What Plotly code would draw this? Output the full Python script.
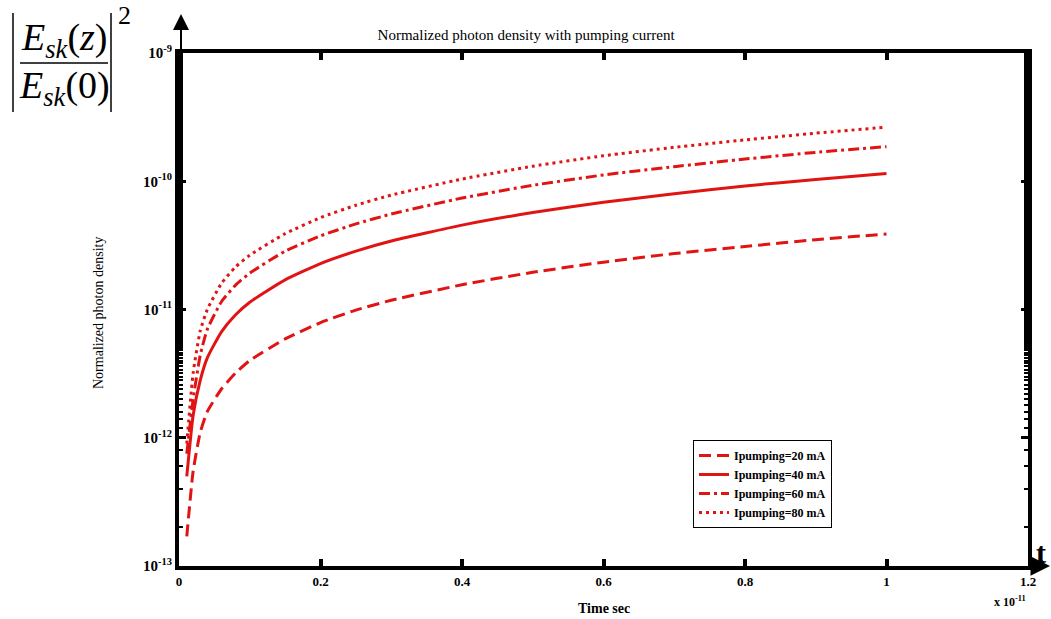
import plotly.graph_objects as go

# time in units of 1e-11 s
time = [0.011, 0.02, 0.03, 0.04, 0.06, 0.08, 0.1, 0.15, 0.2, 0.25, 0.3, 0.4, 0.5, 0.6, 0.7, 0.8, 0.9, 1.0]
i20 = [1.7e-13, 5.5e-13, 1.1e-12, 1.6e-12, 2.4e-12, 3.2e-12, 4.0e-12, 5.9e-12, 7.9e-12, 9.9e-12,
       1.18e-11, 1.56e-11, 1.95e-11, 2.34e-11, 2.73e-11, 3.1e-11, 3.5e-11, 3.88e-11]
i40 = [5.0e-13, 1.5e-12, 2.8e-12, 4.2e-12, 6.7e-12, 9.1e-12, 1.14e-11, 1.7e-11, 2.28e-11, 2.85e-11,
       3.42e-11, 4.55e-11, 5.7e-11, 6.85e-11, 8.0e-11, 9.2e-11, 1.03e-10, 1.15e-10]
i60 = [7.5e-13, 2.0e-12, 4.4e-12, 7.0e-12, 1.15e-11, 1.55e-11, 1.92e-11, 2.85e-11, 3.75e-11, 4.65e-11,
       5.55e-11, 7.4e-11, 9.3e-11, 1.12e-10, 1.3e-10, 1.49e-10, 1.68e-10, 1.86e-10]
i80 = [9e-13, 3.2e-12, 6.8e-12, 1.0e-11, 1.6e-11, 2.15e-11, 2.65e-11, 3.9e-11, 5.2e-11, 6.5e-11,
       7.8e-11, 1.04e-10, 1.31e-10, 1.58e-10, 1.84e-10, 2.1e-10, 2.37e-10, 2.64e-10]
labels = ["Ipumping=20 mA", "Ipumping=40 mA", "Ipumping=60 mA", "Ipumping=80 mA"]
x_ticks = [0, 0.2, 0.4, 0.6, 0.8, 1, 1.2]
x_ticktext = ["0", "0.2", "0.4", "0.6", "0.8", "1", "1.2"]
y_ticks = [1e-13, 1e-12, 1e-11, 1e-10, 1e-9]
y_ticktext = ["10<sup>-13</sup>", "10<sup>-12</sup>", "10<sup>-11</sup>", "10<sup>-10</sup>", "10<sup>-9</sup>"]

W, H = 1051, 619
L, R, T, B = 179, 1028, 53, 566


def px(x):
    return (x - L) / (R - L)


def py(y):
    return (B - y) / (B - T)


RED = "rgb(225,20,20)"
SERIF = "Liberation Serif"
dashes = ["12px,6px", "solid", "11px,4px,3px,4px", "3px,4px"]

fig = go.Figure()
for ys, lab, d in zip([i20, i40, i60, i80], labels, dashes):
    fig.add_trace(go.Scatter(x=time, y=ys, mode="lines", name="<b>%s</b>" % lab,
                             line=dict(color=RED, width=3, dash=d, shape="spline", smoothing=0.5)))

fig.update_layout(
    width=W, height=H,
    margin=dict(l=L, r=W - R, t=T, b=H - B),
    paper_bgcolor="white", plot_bgcolor="white",
    font=dict(family=SERIF, color="black"),
    showlegend=True,
    legend=dict(x=px(693), y=py(440), xanchor="left", yanchor="top",
                bgcolor="white", bordercolor="black", borderwidth=1,
                font=dict(family=SERIF, size=12, color="black"),
                tracegroupgap=0, itemwidth=30),
    title=dict(text="Normalized photon density with pumping current", x=px(604), xanchor="center",
               y=1 - 35 / H, yanchor="middle", font=dict(family=SERIF, size=15, color="black")),
)
fig.update_xaxes(range=[0, 1.2], tickvals=x_ticks, ticktext=["<b>%s</b>" % t for t in x_ticktext],
                 showgrid=False, zeroline=False, showline=True, linecolor="black", linewidth=4,
                 mirror="ticks", ticks="inside", ticklen=7, tickwidth=4, tickcolor="black",
                 tickfont=dict(family=SERIF, size=13, color="black"))
fig.update_yaxes(type="log", range=[-13, -9], tickvals=y_ticks,
                 ticktext=["<b>%s</b>" % t for t in y_ticktext],
                 showgrid=False, zeroline=False, showline=True, linecolor="black", linewidth=4,
                 mirror="ticks", ticks="inside", ticklen=7, tickwidth=3, tickcolor="black",
                 tickfont=dict(family=SERIF, size=15, color="black"),
                 minor=dict(ticks="inside", ticklen=4, tickwidth=2, tickcolor="black", showgrid=False))

ann = []


def add_text(text, x, y, size, **kw):
    ann.append(dict(text=text, x=px(x), y=py(y), xref="paper", yref="paper", showarrow=False,
                    xanchor="center", yanchor="middle", font=dict(family=SERIF, size=size, color="black"), **kw))


# axis titles
add_text("<b>Time sec</b>", 604, 608, 14)
add_text("<b>x 10<sup>-11</sup></b>", 1010, 601, 12)
add_text("Normalized photon density", 98, 313, 14, textangle=-90)
# arrows
ann.append(dict(x=px(181), y=py(14), xref="paper", yref="paper", ax=0, ay=42,
                showarrow=True, arrowhead=2, arrowsize=1.6, arrowwidth=2, arrowcolor="black", text=""))
ann.append(dict(x=px(1050), y=py(566), xref="paper", yref="paper", ax=-22, ay=0,
                showarrow=True, arrowhead=2, arrowsize=1.3, arrowwidth=3, arrowcolor="black", text=""))
add_text("<b>t</b>", 1041, 552, 30)
# formula
add_text("<i>E</i><sub><i>sk</i></sub>(<i>z</i>)", 64, 40, 38)
add_text("<i>E</i><sub><i>sk</i></sub>(0)", 64, 88, 38)
add_text("2", 124, 16, 26)
fig.update_layout(annotations=ann)

shapes = [
    dict(type="line", xref="paper", yref="paper", x0=px(20), x1=px(108), y0=py(63), y1=py(63),
         line=dict(color="black", width=1.5)),
    dict(type="line", xref="paper", yref="paper", x0=px(13), x1=px(13), y0=py(13), y1=py(112),
         line=dict(color="black", width=1.5)),
    dict(type="line", xref="paper", yref="paper", x0=px(111), x1=px(111), y0=py(13), y1=py(112),
         line=dict(color="black", width=1.5)),
]
fig.update_layout(shapes=shapes)

fig.write_html("out.html", config={"displayModeBar": False},
               post_script="document.body.style.margin='0';")
